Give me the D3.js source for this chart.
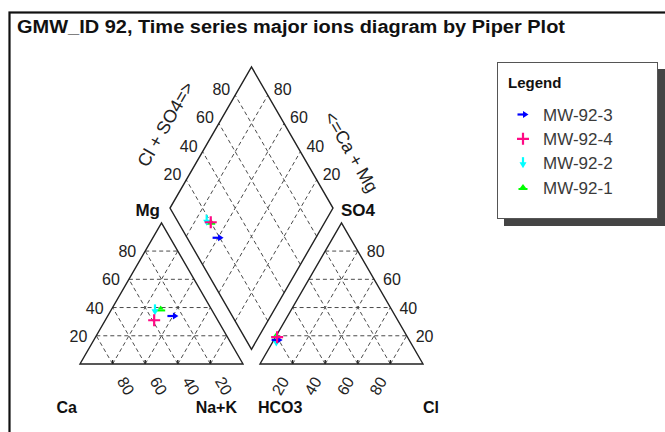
<!DOCTYPE html>
<html><head><meta charset="utf-8">
<script src="https://cdn.jsdelivr.net/npm/d3@7"></script>
<style>html,body{margin:0;padding:0;background:#fff;}svg{display:block;}</style>
</head><body>
<script>
// ---- data ----
const titleText = "GMW_ID 92, Time series major ions diagram by Piper Plot";
const seriesNames = ["MW-92-3", "MW-92-4", "MW-92-2", "MW-92-1"];
const seriesColors = ["#0000ff", "#ff0a85", "#00ffff", "#00ff00"];
const seriesShapes = ["arrowRight", "plus", "arrowDown", "triUp"];
// cations (% meq)
const caPct  = [26, 39, 35, 31];
const mgPct  = [34, 31, 38, 39];
const nakPct = [40, 30, 27, 30];
// anions (% meq)
const hco3Pct = [81, 80, 82, 80];
const so4Pct  = [17, 19, 16, 20];
const clPct   = [2, 1, 2, 0];
const tickValues = [20, 40, 60, 80];
const drawOrder = [3, 2, 0, 1];

// ---- layout ----
const W = 665, H = 432;
const side = 163, gap = 17;
const x0L = 80, yBase = 364, x0R = x0L + side + gap;
const SIN = Math.sqrt(3) / 2;
const S = d3.scaleLinear().domain([0, 100]).range([0, side]);
const bx = x0L + side + gap / 2, by = yBase - gap * SIN;

const svg = d3.select("body").append("svg").attr("width", W).attr("height", H)
  .style("font-family", "'Liberation Sans', Arial, sans-serif");

function cat(ca, mg, nak) { return [x0L + S(nak) + S(mg) / 2, yBase - S(mg) * SIN]; }
function ani(hco3, so4, cl) { return [x0R + S(cl) + S(so4) / 2, yBase - S(so4) * SIN]; }
function dia(caMg, clSo4) { return [bx + (S(clSo4) - S(caMg)) / 2, by - (S(caMg) + S(clSo4)) * SIN]; }

// frame
svg.append("rect").attr("x", 9.5).attr("y", 12.5).attr("width", 700).attr("height", 500)
  .attr("fill", "none").attr("stroke", "#111").attr("stroke-width", 2.2);

// title
svg.append("text").attr("x", 17).attr("y", 33).text(titleText)
  .attr("font-size", 18).attr("font-weight", "bold").attr("fill", "#111")
  .attr("textLength", 548).attr("lengthAdjust", "spacingAndGlyphs");

const line = d3.line();
const gGrid = svg.append("g").attr("fill", "none").attr("stroke", "#4a4a4a")
  .attr("stroke-width", 1).attr("stroke-dasharray", "4,3");

tickValues.forEach(t => {
  // cation triangle
  gGrid.append("path").attr("d", line([cat(100 - t, t, 0), cat(0, t, 100 - t)]));
  gGrid.append("path").attr("d", line([cat(t, 0, 100 - t), cat(t, 100 - t, 0)]));
  gGrid.append("path").attr("d", line([cat(100 - t, 0, t), cat(0, 100 - t, t)]));
  // anion triangle
  gGrid.append("path").attr("d", line([ani(100 - t, t, 0), ani(0, t, 100 - t)]));
  gGrid.append("path").attr("d", line([ani(t, 0, 100 - t), ani(t, 100 - t, 0)]));
  gGrid.append("path").attr("d", line([ani(100 - t, 0, t), ani(0, 100 - t, t)]));
  // diamond
  gGrid.append("path").attr("d", line([dia(t, 0), dia(t, 100)]));
  gGrid.append("path").attr("d", line([dia(0, t), dia(100, t)]));
});

// outlines
const gOut = svg.append("g").attr("fill", "none").attr("stroke", "#222").attr("stroke-width", 1.4);
gOut.append("path").attr("d", line([cat(100, 0, 0), cat(0, 0, 100), cat(0, 100, 0)]) + "Z");
gOut.append("path").attr("d", line([ani(100, 0, 0), ani(0, 0, 100), ani(0, 100, 0)]) + "Z");
gOut.append("path").attr("d", line([dia(0, 0), dia(100, 0), dia(100, 100), dia(0, 100)]) + "Z");

// base ticks
tickValues.forEach(t => {
  gOut.append("path").attr("d", line([[x0L + S(t), yBase], [x0L + S(t), yBase - 4]]));
  gOut.append("path").attr("d", line([[x0R + S(t), yBase], [x0R + S(t), yBase - 4]]));
});

// tick labels
const gLab = svg.append("g").attr("font-size", 16).attr("fill", "#222");
tickValues.forEach(t => {
  let p = cat(100 - t, t, 0);
  gLab.append("text").attr("x", p[0] - 9).attr("y", p[1] + 6).attr("text-anchor", "end").text(t);
  p = ani(0, t, 100 - t);
  gLab.append("text").attr("x", p[0] + 9).attr("y", p[1] + 6).attr("text-anchor", "start").text(t);
  p = dia(100, t);
  gLab.append("text").attr("x", p[0] - 5).attr("y", p[1]).attr("text-anchor", "end").text(t);
  p = dia(t, 100);
  gLab.append("text").attr("x", p[0] + 6).attr("y", p[1]).attr("text-anchor", "start").text(t);
  // bottom rotated labels
  let x = x0L + S(100 - t) + 4, y = yBase + 17;
  gLab.append("text").attr("transform", `translate(${x},${y}) rotate(60)`).attr("text-anchor", "start").text(t);
  x = x0R + S(t) - 3;
  gLab.append("text").attr("transform", `translate(${x},${y}) rotate(-60)`).attr("text-anchor", "end").text(t);
});

// diamond axis titles
{
  const L = dia(100, 0), T = dia(100, 100), R = dia(0, 100);
  const midL = [(L[0] + T[0]) / 2, (L[1] + T[1]) / 2];
  const midR = [(R[0] + T[0]) / 2, (R[1] + T[1]) / 2];
  const cL = [midL[0] - 46 * SIN - 11 * 0.5, midL[1] - 46 * 0.5 + 11 * SIN];
  const cR = [midR[0] + 44 * SIN + 42 * 0.5, midR[1] - 44 * 0.5 + 42 * SIN];
  gLab.append("text").attr("transform", `translate(${cL[0]},${cL[1]}) rotate(-60)`)
    .attr("text-anchor", "middle").attr("dy", "0.35em").attr("font-size", 18).text("Cl + SO4=>");
  gLab.append("text").attr("transform", `translate(${cR[0]},${cR[1]}) rotate(60)`)
    .attr("text-anchor", "middle").attr("dy", "0.35em").attr("font-size", 18).text("<=Ca + Mg");
}

// vertex labels
const gV = svg.append("g").attr("font-size", 16).attr("font-weight", "bold").attr("fill", "#111");
{
  const L = dia(100, 0), R = dia(0, 100);
  gV.append("text").attr("x", L[0] - 10).attr("y", L[1] + 8).attr("text-anchor", "end").attr("font-size", 17).text("Mg");
  gV.append("text").attr("x", R[0] + 8).attr("y", R[1] + 8).attr("text-anchor", "start").attr("font-size", 17)
    .attr("stroke", "#fff").attr("stroke-width", 3).attr("paint-order", "stroke").text("SO4");
  gV.append("text").attr("x", x0L - 3).attr("y", 413).attr("text-anchor", "end").text("Ca");
  gV.append("text").attr("x", x0L + side - 6).attr("y", 413).attr("text-anchor", "end").text("Na+K");
  gV.append("text").attr("x", x0R - 2).attr("y", 413).attr("text-anchor", "start").text("HCO3");
  gV.append("text").attr("x", x0R + side).attr("y", 413).attr("text-anchor", "start").text("Cl");
}

// markers
function drawMarker(g, shape, color, x, y) {
  const m = g.append("g").attr("transform", `translate(${x},${y})`);
  if (shape === "arrowRight") {
    m.append("path").attr("d", "M-5.5,0H1").attr("stroke", color).attr("stroke-width", 2.2);
    m.append("path").attr("d", "M0,-3.5L5.5,0L0,3.5Z").attr("fill", color);
  } else if (shape === "plus") {
    m.append("path").attr("d", "M-6,0H6M0,-6V6").attr("stroke", color).attr("stroke-width", 2.2);
  } else if (shape === "arrowDown") {
    m.append("path").attr("d", "M0,-6V0").attr("stroke", color).attr("stroke-width", 2.2);
    m.append("path").attr("d", "M-3.5,-1L3.5,-1L0,5Z").attr("fill", color);
  } else {
    m.append("path").attr("d", "M-3,0.5L0,-3.5L3,0.5Z").attr("fill", color);
    m.append("path").attr("d", "M-4.5,1.5H4.5").attr("stroke", color).attr("stroke-width", 2);
  }
}
const gPts = svg.append("g");
drawOrder.forEach(i => {
  const c = cat(caPct[i], mgPct[i], nakPct[i]);
  const a = ani(hco3Pct[i], so4Pct[i], clPct[i]);
  const d = dia(caPct[i] + mgPct[i], so4Pct[i] + clPct[i]);
  [c, a, d].forEach(p => drawMarker(gPts, seriesShapes[i], seriesColors[i], p[0], p[1]));
});

// legend
const lg = svg.append("g");
lg.append("rect").attr("x", 504).attr("y", 69).attr("width", 161).attr("height", 157).attr("fill", "#444");
lg.append("rect").attr("x", 497.5).attr("y", 62.5).attr("width", 160).attr("height", 156)
  .attr("fill", "#fff").attr("stroke", "#555").attr("stroke-width", 1);
lg.append("text").attr("x", 508).attr("y", 88).attr("font-size", 15).attr("font-weight", "bold")
  .attr("fill", "#111").text("Legend");
const rowY = d3.scalePoint().domain(seriesNames).range([114.5, 187.5]);
seriesNames.forEach((n, i) => {
  const y = rowY(n);
  drawMarker(lg, seriesShapes[i], seriesColors[i], 523, y);
  lg.append("text").attr("x", 543).attr("y", y + 6).attr("font-size", 17).attr("fill", "#3a3a3a").text(n);
});
</script>
</body></html>
